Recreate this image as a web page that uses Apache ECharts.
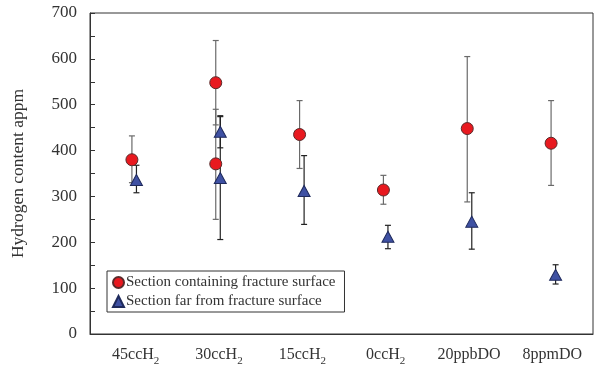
<!DOCTYPE html>
<html><head><meta charset="utf-8">
<script src="https://cdn.jsdelivr.net/npm/echarts@6/dist/echarts.min.js"></script>
<style>html,body{margin:0;padding:0;background:#fff}#c{width:594px;height:369px}</style>
</head><body><div id="c"></div>
<script>
const categories = ['45ccH2','30ccH2','15ccH2','0ccH2','20ppbDO','8ppmDO'];
const yTicks = [0,100,200,300,400,500,600,700];

const circleName = 'Section containing fracture surface';
const circleCat  = [0, 1, 1, 2, 3, 4, 5];
const circleVal  = [380, 548, 371, 435, 314, 448, 416];
const circleLow  = [330, 456, 250, 361, 283, 288, 324];
const circleHigh = [432, 640, 490, 509, 346, 605, 509];

const triName = 'Section far from fracture surface';
const triCat  = [0, 1, 1, 2, 3, 4, 5];
const triVal  = [336, 441, 340, 312, 212, 245, 129];
const triLow  = [308, 406, 206, 239, 186, 185, 109];
const triHigh = [368, 476, 474, 389, 237, 308, 151];

const FONT = 'Liberation Serif';
const TRI_SHIFT = 0.054;

function pts(cat, val, shift){ return cat.map((c,i)=>[c+1+shift, val[i]]); }
function bars(cat, low, high, shift){ return cat.map((c,i)=>[c+1+shift, low[i], high[i]]); }

function errRender(color){
  return function(params, api){
    const x = api.value(0), lo = api.value(1), hi = api.value(2);
    const p1 = api.coord([x, lo]), p2 = api.coord([x, hi]);
    const w = 3;
    const st = {stroke: color, lineWidth: 1.2};
    return {type:'group', children:[
      {type:'line', shape:{x1:p1[0],y1:p1[1],x2:p2[0],y2:p2[1]}, style:st},
      {type:'line', shape:{x1:p1[0]-w,y1:p1[1],x2:p1[0]+w,y2:p1[1]}, style:st},
      {type:'line', shape:{x1:p2[0]-w,y1:p2[1],x2:p2[0]+w,y2:p2[1]}, style:st}
    ]};
  };
}

function fmtCat(v){
  const m = v.match(/^(.*H)2$/);
  if (m) return '{n|' + m[1] + '}{s|2}';
  return '{n|' + v + '}';
}

const chart = echarts.init(document.getElementById('c'), null, {renderer:'canvas'});
chart.setOption({
  backgroundColor:'#fff',
  animation:false,
  grid:[
    {left:90, top:13, width:503, bottom:35, show:true, borderColor:'#333', borderWidth:1},
    {left:94, top:13, width:515, bottom:35, show:false}
  ],
  xAxis:[
    {type:'value', gridIndex:0, min:0.5, max:6.5, show:true,
     axisLine:{show:true, lineStyle:{color:'#333'}}, axisTick:{show:false}, axisLabel:{show:false}, splitLine:{show:false}},
    {type:'category', gridIndex:1, data:categories, boundaryGap:true,
     axisLine:{show:false}, axisTick:{show:false}, splitLine:{show:false},
     axisLabel:{margin:13, interval:0, formatter:fmtCat,
       rich:{n:{fontFamily:FONT, fontSize:16, color:'#333', verticalAlign:'bottom', padding:[0,0,4,0]},
             s:{fontFamily:FONT, fontSize:11, color:'#333', verticalAlign:'bottom'}}}}
  ],
  yAxis:[
    {type:'value', gridIndex:0, min:0, max:700, interval:100,
     name:'Hydrogen content appm', nameLocation:'middle', nameRotate:90, nameGap:63,
     nameTextStyle:{fontFamily:FONT, fontSize:17.5, color:'#333'},
     axisLine:{show:true, lineStyle:{color:'#333'}},
     axisTick:{show:true, inside:true, length:5, lineStyle:{color:'#333'}},
     minorTick:{show:true, splitNumber:2, length:5, lineStyle:{color:'#333'}},
     splitLine:{show:false},
     axisLabel:{margin:13, fontFamily:FONT, fontSize:17, color:'#333',
       formatter:(v)=> yTicks.includes(v) ? String(v) : ''}},
    {type:'value', gridIndex:1, min:0, max:700, show:false}
  ],
  legend:{
    left:107, top:271, orient:'vertical', itemGap:4,
    borderColor:'#333', borderWidth:1, padding:[4,9,3,5],
    itemWidth:11, itemHeight:11,
    textStyle:{fontFamily:FONT, fontSize:15, color:'#333', padding:[0,0,0,-3]},
    data:[{name:circleName, icon:'circle'},{name:triName, icon:'triangle'}]
  },
  series:[
    {type:'custom', xAxisIndex:0, yAxisIndex:0, renderItem:errRender('#6a6a6a'),
     data:bars(circleCat, circleLow, circleHigh, 0), z:1, silent:true},
    {type:'custom', xAxisIndex:0, yAxisIndex:0, renderItem:errRender('#222'),
     data:bars(triCat, triLow, triHigh, TRI_SHIFT), z:2, silent:true},
    {name:circleName, type:'scatter', xAxisIndex:0, yAxisIndex:0, symbol:'circle', symbolSize:12,
     itemStyle:{color:'#e8191f', borderColor:'#5a2a2a', borderWidth:1, opacity:1},
     data:pts(circleCat, circleVal, 0), z:3},
    {name:triName, type:'scatter', xAxisIndex:0, yAxisIndex:0, symbol:'triangle', symbolSize:[12,11],
     itemStyle:{color:'#3f51a3', borderColor:'#1f2a5c', borderWidth:1, opacity:1},
     data:pts(triCat, triVal, TRI_SHIFT), z:4}
  ]
});
</script></body></html>
